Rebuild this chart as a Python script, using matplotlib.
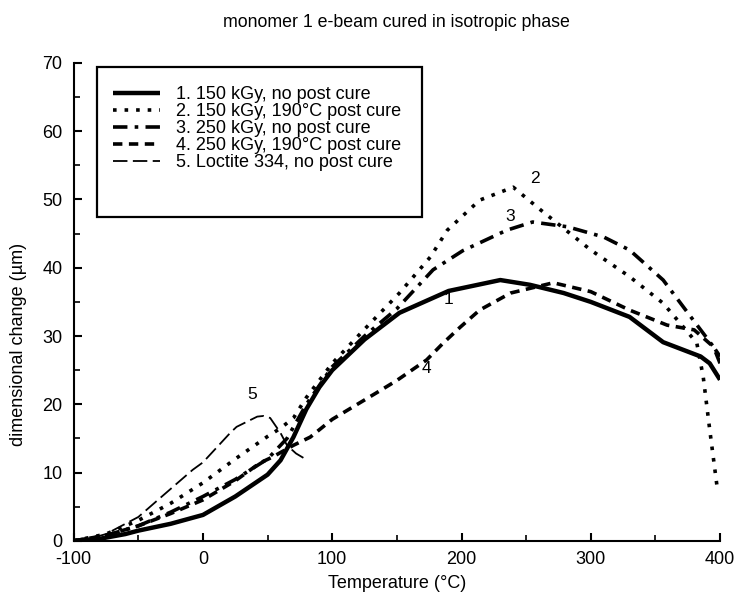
import matplotlib
matplotlib.use("Agg")
import matplotlib.pyplot as plt
from matplotlib.patches import Rectangle

plt.rcParams['font.family'] = ['Liberation Sans', 'DejaVu Sans']
plt.rcParams['axes.unicode_minus'] = False

# ---- data ----
x1 = [-100, -80, -60, -50, -25, 0, 25, 50, 60, 70, 80, 90, 100, 125, 152, 190, 230, 253, 279, 300, 330, 356, 385, 392, 400]
y1 = [0, 0.3, 1.0, 1.5, 2.5, 3.8, 6.5, 9.7, 11.8, 15.2, 19.3, 22.5, 25.0, 29.5, 33.4, 36.6, 38.2, 37.5, 36.3, 35.0, 32.8, 29.1, 27.0, 26.0, 23.6]

x2 = [-100, -75, -50, -25, 0, 25, 50, 60, 70, 80, 100, 125, 152, 176, 189, 214, 240, 261, 300, 330, 356, 382, 387, 392, 398]
y2 = [0, 1.0, 3.0, 5.5, 8.5, 12.0, 15.3, 16.5, 18.0, 21.0, 26.0, 31.0, 36.3, 41.6, 45.5, 49.9, 51.8, 48.5, 42.6, 38.7, 34.8, 29.0, 24.0, 16.3, 7.5]

x3 = [-100, -75, -50, -25, 0, 25, 50, 65, 80, 100, 125, 150, 178, 201, 235, 255, 282, 310, 330, 356, 379, 395, 400]
y3 = [0, 0.8, 2.2, 4.2, 6.5, 9.0, 12.0, 15.0, 20.0, 25.5, 30.0, 34.0, 39.7, 42.5, 45.5, 46.7, 46.0, 44.5, 42.6, 38.2, 32.4, 28.4, 26.0]

x4 = [-100, -75, -50, -25, 0, 25, 44, 54, 70, 83, 100, 137, 150, 173, 186, 199, 214, 238, 271, 300, 330, 359, 380, 395, 400]
y4 = [0, 0.8, 2.2, 4.0, 6.0, 8.8, 11.4, 12.3, 14.0, 15.2, 17.8, 22.0, 23.5, 26.5, 29.0, 31.3, 33.8, 36.3, 37.8, 36.5, 33.8, 31.6, 30.9, 28.4, 27.0]

x5 = [-100, -90, -75, -59, -50, -33, -8, 0, 21, 26, 42, 47, 52, 60, 65, 72, 80]
y5 = [0, 0.2, 1.0, 2.6, 3.5, 6.3, 10.4, 11.5, 15.8, 16.7, 18.2, 18.3, 18.0, 15.8, 14.0, 12.8, 11.9]

labels = ["1. 150 kGy, no post cure",
          "2. 150 kGy, 190\u00b0C post cure",
          "3. 250 kGy, no post cure",
          "4. 250 kGy, 190\u00b0C post cure",
          "5. Loctite 334, no post cure"]

curve_tags = ["1", "2", "3", "4", "5"]
tag_x = [190, 257, 238, 173, 38]
tag_y = [35.3, 53.0, 47.5, 25.3, 21.4]

fig = plt.figure(figsize=(7.37, 6.05), dpi=100)
ax = fig.add_axes([0.100, 0.106, 0.877, 0.790])

ax.plot(x1, y1, color='black', lw=3.2, ls='-', label=labels[0], solid_capstyle='butt')
ax.plot(x2, y2, color='black', lw=2.6, ls=(0, (1.0, 2.2)), label=labels[1])
ax.plot(x3, y3, color='black', lw=2.6, ls=(0, (4, 2, 1, 2)), label=labels[2])
ax.plot(x4, y4, color='black', lw=2.6, ls=(0, (2.6, 1.8)), label=labels[3])
ax.plot(x5, y5, color='black', lw=1.3, ls=(0, (8, 3)), label=labels[4])

for t, tx, ty in zip(curve_tags, tag_x, tag_y):
    ax.text(tx, ty, t, fontsize=12.5, ha='center', va='center')

ax.set_xlim(-100, 400)
ax.set_ylim(0, 70)
ax.set_xticks([-100, 0, 100, 200, 300, 400])
ax.set_xticks([-50, 50, 150, 250, 350], minor=True)
ax.set_yticks(range(0, 71, 10))
ax.set_yticks(range(5, 70, 10), minor=True)
ax.tick_params(which='major', direction='in', length=6, width=1.5, labelsize=13)
ax.tick_params(axis='y', which='major', pad=8)
ax.tick_params(axis='x', which='major', pad=7)
ax.tick_params(which='minor', direction='in', length=4, width=1.2)
ax.spines['top'].set_visible(False)
ax.spines['right'].set_visible(False)
ax.spines['left'].set_linewidth(1.5)
ax.spines['bottom'].set_linewidth(1.5)

ax.set_xlabel("Temperature (\u00b0C)", fontsize=13, labelpad=5)
ax.set_ylabel("dimensional change (\u00b5m)", fontsize=13)
ax.yaxis.set_label_coords(-0.073, 0.41)
ax.set_title("monomer 1 e-beam cured in isotropic phase", fontsize=12.8, pad=26)

leg = ax.legend(loc='upper left', bbox_to_anchor=(0.0495, 0.966), frameon=False,
                fontsize=13, handlelength=2.6, labelspacing=0.0, handletextpad=0.9,
                borderaxespad=0)
ax.add_patch(Rectangle((0.0356, 0.678), 0.503, 0.314, transform=ax.transAxes,
                       fill=False, edgecolor='black', lw=1.6, zorder=5))

fig.savefig("out.png", dpi=100)
